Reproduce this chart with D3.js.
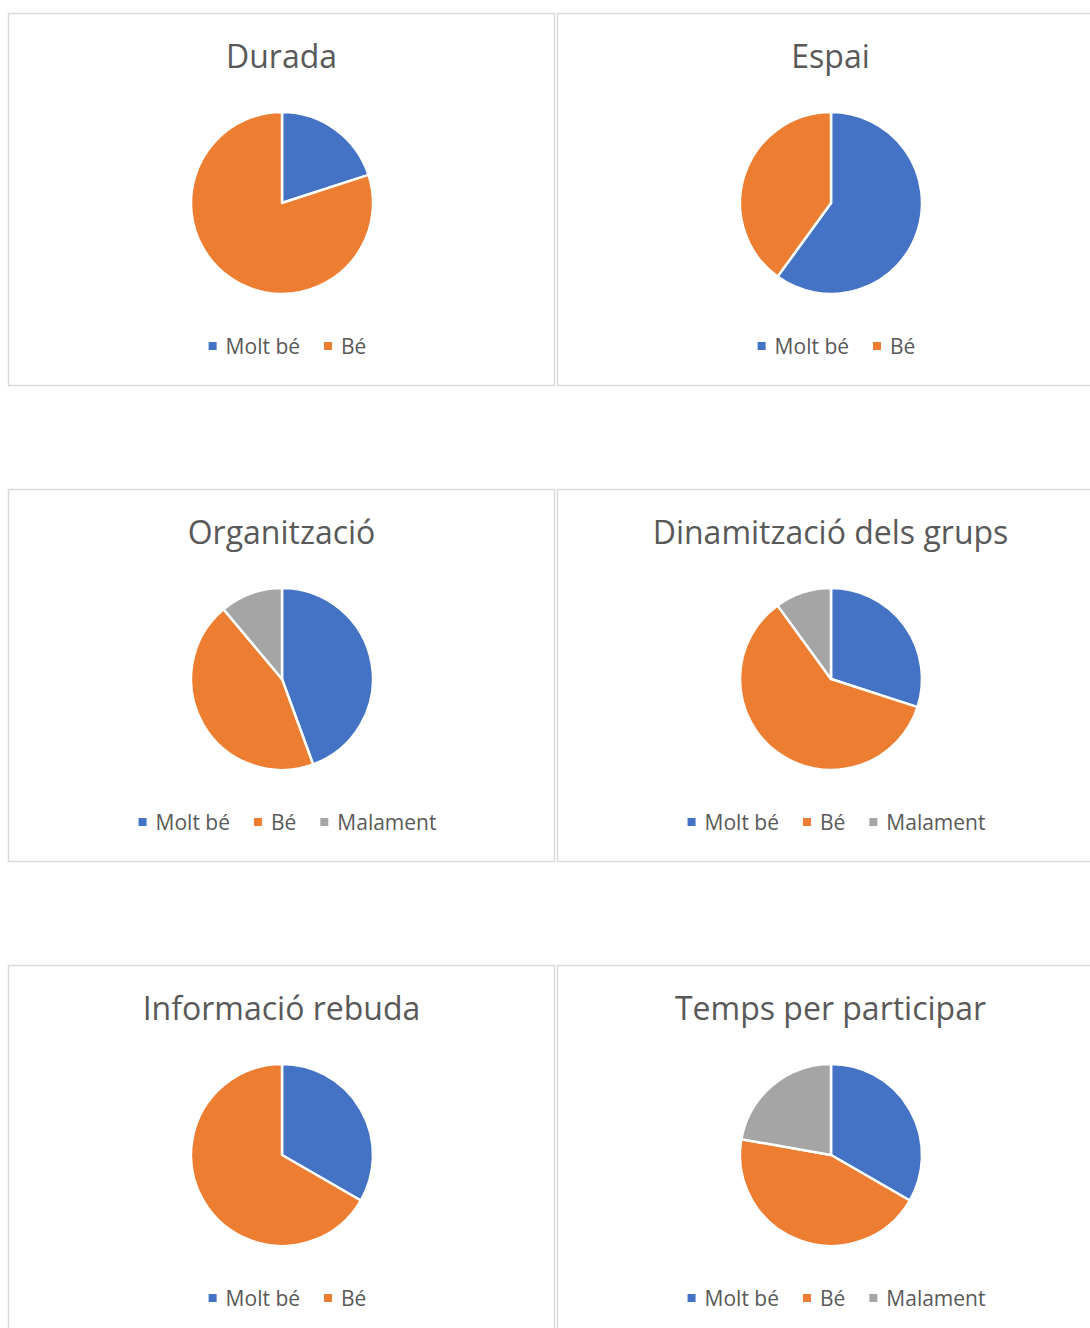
<!DOCTYPE html>
<html>
<head>
<meta charset="utf-8">
<script src="https://cdn.jsdelivr.net/npm/d3@7"></script>
<style>
  html, body { margin: 0; padding: 0; background: #fff; }
  svg { display: block; }
  text { font-family: "Open Sans", "Liberation Sans", sans-serif; fill: #595959; }
</style>
</head>
<body>
<svg id="chart" width="1090" height="1328"></svg>
<script>
const categories = ["Molt bé", "Bé", "Malament"];
const colors = ["#4472C4", "#ED7D31", "#A5A5A5"];

const titles = ["Durada", "Espai", "Organització", "Dinamització dels grups", "Informació rebuda", "Temps per participar"];
const durada = [2, 8];
const espai = [6, 4];
const organitzacio = [4, 4, 1];
const dinamitzacio = [3, 6, 1];
const informacio = [1, 2];
const temps = [3, 4, 2];
const seriesValues = [durada, espai, organitzacio, dinamitzacio, informacio, temps];

const svg = d3.select("#chart");
const panelW = 546, panelH = 372;
const colX = [8.5, 557.5];
const rowY = [13.5, 489.5, 965.5];
const radius = 91;

const pie = d3.pie().sort(null).value(d => d);
const arc = d3.arc().innerRadius(0).outerRadius(radius);

titles.forEach((title, i) => {
  const x0 = colX[i % 2], y0 = rowY[Math.floor(i / 2)];
  const g = svg.append("g").attr("transform", `translate(${x0},${y0})`);

  g.append("rect")
    .attr("width", panelW).attr("height", panelH)
    .attr("fill", "#fff").attr("stroke", "#d9d9d9").attr("stroke-width", 1.5);

  g.append("text")
    .attr("x", panelW / 2).attr("y", 54)
    .attr("text-anchor", "middle")
    .style("font-size", "32px")
    .text(title);

  const vals = seriesValues[i];
  g.append("g")
    .attr("transform", `translate(${panelW / 2 + 0.5},${189.5})`)
    .selectAll("path")
    .data(pie(vals))
    .join("path")
    .attr("d", arc)
    .attr("fill", (d, j) => colors[j])
    .attr("stroke", "#fff")
    .attr("stroke-width", 2.5)
    .attr("stroke-linejoin", "round");

  // legend
  const leg = g.append("g");
  let cx = 0;
  vals.forEach((v, j) => {
    const item = leg.append("g").attr("transform", `translate(${cx},0)`);
    item.append("rect").attr("x", 0).attr("y", -12).attr("width", 8).attr("height", 8).attr("fill", colors[j]);
    const t = item.append("text").attr("x", 17).attr("y", 0)
      .style("font-size", "21px").text(categories[j]);
    cx += 17 + t.node().getComputedTextLength() + 24;
  });
  const legW = cx - 24;
  leg.attr("transform", `translate(${panelW / 2 + 6 - legW / 2},${340.5})`);
});
</script>
</body>
</html>
